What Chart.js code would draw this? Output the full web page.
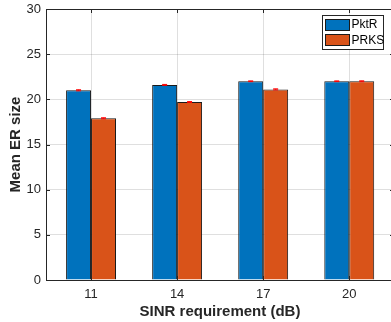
<!DOCTYPE html>
<html>
<head>
<meta charset="utf-8">
<script src="https://cdn.jsdelivr.net/npm/chart.js@4/dist/chart.umd.min.js"></script>
<style>
  html, body { margin: 0; padding: 0; background: #fff; overflow: hidden; }
  #wrap { width: 391px; height: 322px; overflow: hidden; }
  canvas { display: block; }
</style>
</head>
<body>
<div id="wrap"><canvas id="chart" width="396" height="322"></canvas></div>
<script>
// Data
const sinrValues = [11, 14, 17, 20];
const seriesNames = ["PktR", "PRKS"];
const pktrValues = [21.0, 21.6, 22.0, 22.0];
const prksValues = [17.9, 19.7, 21.1, 22.0];
const pktrErrors = [0.06, 0.05, 0.04, 0.04];
const prksErrors = [0.06, 0.05, 0.06, 0.05];
const yTicks = [0, 5, 10, 15, 20, 25, 30];
const xLimits = [9.43, 21.56];

const axisColor = "#262626";
const fontFamily = "'Liberation Sans', Arial, Helvetica, sans-serif";

// Draws the MATLAB style box, inward ticks, error caps and legend
const matlabAxes = {
  id: "matlabAxes",
  afterDatasetsDraw(chart) {
    const { ctx, chartArea: a, scales } = chart;
    const tick = 4;
    ctx.save();
    ctx.strokeStyle = axisColor;
    ctx.lineWidth = 1;
    ctx.beginPath();
    yTicks.forEach((v) => {
      const y = Math.round(scales.y.getPixelForValue(v)) + 0.5;
      ctx.moveTo(a.left, y); ctx.lineTo(a.left + tick, y);
      ctx.moveTo(a.right, y); ctx.lineTo(a.right - tick, y);
    });
    sinrValues.forEach((v) => {
      const x = Math.round(scales.x.getPixelForValue(v)) + 0.5;
      ctx.moveTo(x, a.top); ctx.lineTo(x, a.top + tick);
      ctx.moveTo(x, a.bottom); ctx.lineTo(x, a.bottom - tick);
    });
    ctx.stroke();
    ctx.strokeRect(Math.round(a.left) + 0.5, Math.round(a.top) + 0.5,
      Math.round(a.right - a.left), Math.round(a.bottom - a.top));

    // error bars
    const errs = [pktrErrors, prksErrors];
    ctx.strokeStyle = "#ff0000";
    ctx.lineWidth = 1;
    chart.data.datasets.forEach((ds, di) => {
      chart.getDatasetMeta(di).data.forEach((bar, i) => {
        const v = ds.data[i].y;
        const e = errs[di][i];
        const y1 = scales.y.getPixelForValue(v - e);
        const y2 = scales.y.getPixelForValue(v + e);
        ctx.beginPath();
        ctx.moveTo(bar.x, y1); ctx.lineTo(bar.x, y2);
        ctx.moveTo(bar.x - 2.5, y1); ctx.lineTo(bar.x + 2.5, y1);
        ctx.moveTo(bar.x - 2.5, y2); ctx.lineTo(bar.x + 2.5, y2);
        ctx.stroke();
      });
    });
    ctx.restore();
  },
  afterDraw(chart) {
    const { ctx } = chart;
    ctx.save();
    ctx.fillStyle = "#fff";
    ctx.fillRect(322, 15, 61, 34);
    ctx.strokeStyle = axisColor;
    ctx.lineWidth = 1;
    ctx.strokeRect(322.5, 15.5, 61, 34);
    ctx.font = "12px " + fontFamily;
    ctx.textBaseline = "middle";
    chart.data.datasets.forEach((ds, i) => {
      const y = 19 + i * 15.3;
      ctx.fillStyle = ds.backgroundColor;
      ctx.fillRect(325, y, 24, 11.5);
      ctx.strokeStyle = "#1a1a1a";
      ctx.strokeRect(325.5, Math.round(y) + 0.5, 24, 11);
      ctx.fillStyle = "#000";
      ctx.fillText(ds.label, 351.5, y + 6);
    });
    ctx.restore();
  },
};

const toPoints = (ys) => sinrValues.map((x, i) => ({ x: x, y: ys[i] }));

new Chart(document.getElementById("chart"), {
  type: "bar",
  data: {
    datasets: [
      {
        label: seriesNames[0],
        data: toPoints(pktrValues),
        backgroundColor: "#0072BD",
        borderColor: "#1a1a1a",
        borderWidth: 1,
        categoryPercentage: 0.58,
        barPercentage: 1.0,
      },
      {
        label: seriesNames[1],
        data: toPoints(prksValues),
        backgroundColor: "#D95319",
        borderColor: "#1a1a1a",
        borderWidth: 1,
        categoryPercentage: 0.58,
        barPercentage: 1.0,
      },
    ],
  },
  options: {
    responsive: false,
    animation: false,
    devicePixelRatio: 1,
    layout: { padding: { top: 9, right: 2, left: 0, bottom: 0 } },
    plugins: { legend: { display: false }, tooltip: { enabled: false } },
    scales: {
      x: {
        type: "linear",
        min: xLimits[0],
        max: xLimits[1],
        offset: false,
        grid: { offset: false, color: "rgba(38,38,38,0.15)", drawTicks: false },
        border: { display: false },
        afterBuildTicks: (s) => { s.ticks = sinrValues.map((v) => ({ value: v })); },
        ticks: {
          color: axisColor,
          padding: 7,
          font: { family: fontFamily, size: 13 },
          callback: (v) => String(v),
        },
        title: {
          display: true,
          text: "SINR requirement (dB)",
          color: axisColor,
          padding: { top: 0, bottom: 1.5 },
          font: { family: fontFamily, size: 15, weight: "bold" },
        },
        afterFit: (s) => {
          s.height = 42;
          s.paddingLeft = 0;
          s.paddingRight = 0;
        },
      },
      y: {
        min: 0,
        max: 30,
        grid: { color: "rgba(38,38,38,0.15)", drawTicks: false },
        border: { display: false },
        ticks: {
          stepSize: 5,
          color: axisColor,
          padding: 5,
          font: { family: fontFamily, size: 13 },
        },
        title: {
          display: true,
          text: "Mean ER size",
          color: axisColor,
          padding: { top: 7, bottom: 0 },
          font: { family: fontFamily, size: 15, weight: "bold" },
        },
        afterFit: (s) => {
          s.width = 46;
          s.paddingTop = 0;
          s.paddingBottom = 0;
        },
      },
    },
  },
  plugins: [matlabAxes],
});
</script>
</body>
</html>
